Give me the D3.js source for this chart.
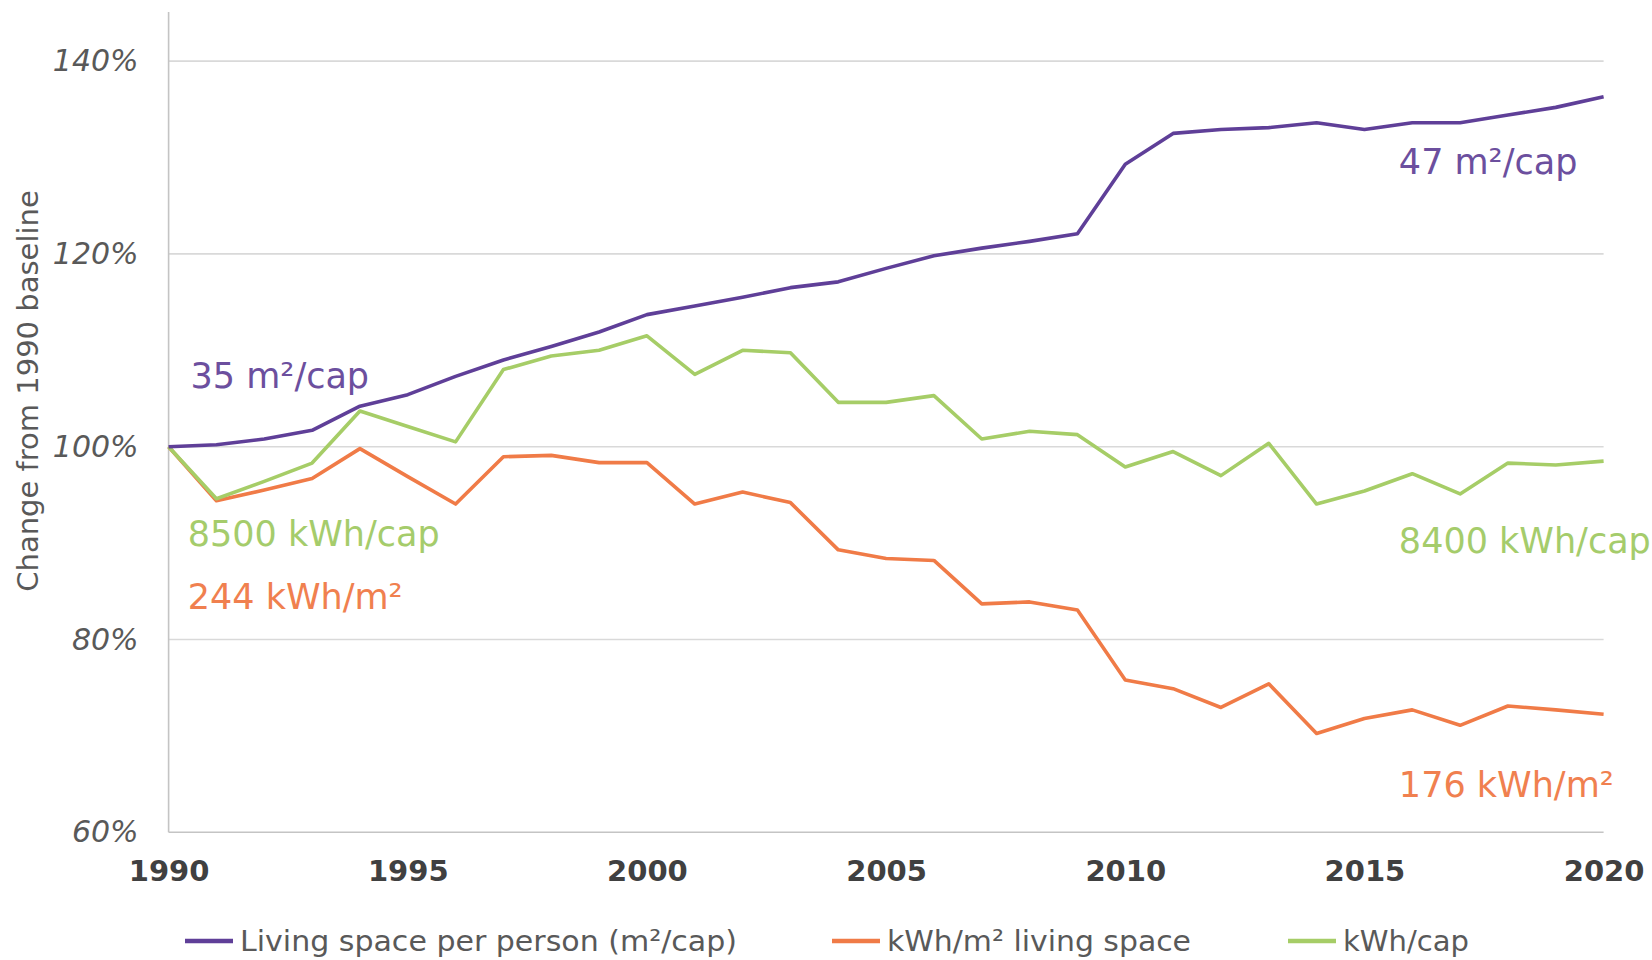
<!DOCTYPE html>
<html>
<head>
<meta charset="utf-8">
<script src="https://cdn.jsdelivr.net/npm/d3@7"></script>
<style>
  body { margin: 0; background: #fff; }
  svg { display: block; font-family: "DejaVu Sans", Verdana, sans-serif; }
</style>
</head>
<body>
<svg id="chart"></svg>
<script>
// data (index 100 = 1990)
const years = d3.range(1990, 2021);
const livingSpace = [100, 100.2, 100.8, 101.7, 104.2, 105.4, 107.3, 109.0, 110.4, 111.9,
  113.7, 114.6, 115.5, 116.5, 117.1, 118.5, 119.8, 120.6, 121.3, 122.1,
  129.3, 132.5, 132.9, 133.1, 133.6, 132.9, 133.6, 133.6, 134.4, 135.2, 136.3];
const kwhPerM2 = [100, 94.4, 95.5, 96.7, 99.8, 96.9, 94.05, 98.96, 99.1, 98.35,
  98.35, 94.05, 95.3, 94.2, 89.3, 88.4, 88.2, 83.7, 83.9, 83.05,
  75.8, 74.9, 72.95, 75.4, 70.25, 71.8, 72.7, 71.1, 73.1, 72.7, 72.25];
const kwhPerCap = [100, 94.6, 96.4, 98.3, 103.7, 102.1, 100.5, 108.0, 109.4, 110.0,
  111.5, 107.5, 110.0, 109.75, 104.6, 104.6, 105.3, 100.8, 101.6, 101.25,
  97.9, 99.5, 97.0, 100.35, 94.05, 95.4, 97.2, 95.1, 98.3, 98.1, 98.5];

const seriesNames = ["Living space per person (m²/cap)", "kWh/m² living space", "kWh/cap"];
const yTicks = [60, 80, 100, 120, 140];
const xTicks = [1990, 1995, 2000, 2005, 2010, 2015, 2020];

// start / end labels: [text, year, value]
const endLabels = [
  ["35 m²/cap", 1990.46, 106.1],
  ["47 m²/cap", 2015.72, 128.3],
  ["8500 kWh/cap", 1990.4, 89.7],
  ["8400 kWh/cap", 2015.72, 89.0],
  ["244 kWh/m²", 1990.4, 83.2],
  ["176 kWh/m²", 2015.72, 63.7]
];

const lineColors = ["#5f3f98", "#f07b47", "#a6cd67"];
const textColors = ["#6c4f9e", "#f0804f", "#a5cc6b"];
const labelSeries = [0, 0, 2, 2, 1, 1];

const W = 1652, H = 960;
const svg = d3.select("#chart").attr("width", W).attr("height", H);

const x = d3.scaleLinear().domain([1990, 2020]).range([168.6, 1603.6]);
const y = d3.scaleLinear().domain([60, 140]).range([832.3, 61.1]);

// grid
svg.append("g")
  .selectAll("line")
  .data(yTicks)
  .enter()
  .append("line")
  .attr("x1", x(1990))
  .attr("x2", x(2020))
  .attr("y1", d => y(d))
  .attr("y2", d => y(d))
  .attr("stroke", d => d === 60 ? "#c4c4c4" : "#d9d9d9")
  .attr("stroke-width", 1.6);

// left axis line
svg.append("line")
  .attr("x1", x(1990)).attr("x2", x(1990))
  .attr("y1", 12).attr("y2", y(60))
  .attr("stroke", "#c4c4c4")
  .attr("stroke-width", 1.6);

// y axis labels
const yAxis = svg.append("g")
  .attr("transform", "translate(" + (x(1990) - 30) + ",0)")
  .call(d3.axisLeft(y).tickValues(yTicks).tickSize(0).tickFormat(d => d + "%"));
yAxis.select(".domain").remove();
yAxis.selectAll("text")
  .attr("x", 0)
  .attr("font-size", 30)
  .attr("font-style", "italic")
  .attr("font-family", "DejaVu Sans")
  .attr("fill", "#595959");

// x axis labels
const xAxis = svg.append("g")
  .attr("transform", "translate(0," + y(60) + ")")
  .call(d3.axisBottom(x).tickValues(xTicks).tickSize(0).tickFormat(d3.format("d")));
xAxis.select(".domain").remove();
xAxis.selectAll("text")
  .attr("y", 28)
  .attr("font-size", 29)
  .attr("font-weight", "bold")
  .attr("font-family", "DejaVu Sans")
  .attr("fill", "#404040");

// y title
svg.append("text")
  .attr("transform", "translate(38," + 391 + ") rotate(-90)")
  .attr("text-anchor", "middle")
  .attr("font-size", 29)
  .attr("fill", "#595959")
  .text("Change from 1990 baseline");

// lines
const allSeries = [livingSpace, kwhPerM2, kwhPerCap];
const line = d3.line()
  .x((d, i) => x(years[i]))
  .y(d => y(d));

svg.append("g")
  .selectAll("path")
  .data([allSeries[1], allSeries[2], allSeries[0]])
  .enter()
  .append("path")
  .attr("d", line)
  .attr("fill", "none")
  .attr("stroke", (d, i) => lineColors[[1, 2, 0][i]])
  .attr("stroke-width", 3.6)
  .attr("stroke-linejoin", "round");

// labels at start / end
svg.append("g")
  .selectAll("text")
  .data(endLabels)
  .enter()
  .append("text")
  .attr("x", d => x(d[1]))
  .attr("y", d => y(d[2]))
  .attr("font-size", 35)
  .attr("fill", (d, i) => textColors[labelSeries[i]])
  .text(d => d[0]);

// legend
const legendX = [185, 832, 1288];
const legendW = [497, 304, 126];
const legend = svg.append("g").attr("transform", "translate(0,941)");
const items = legend.selectAll("g")
  .data(seriesNames)
  .enter()
  .append("g")
  .attr("transform", (d, i) => "translate(" + legendX[i] + ",0)");
items.append("line")
  .attr("x1", 0).attr("x2", 48)
  .attr("y1", 0).attr("y2", 0)
  .attr("stroke", (d, i) => lineColors[i])
  .attr("stroke-width", 4.5);
items.append("text")
  .attr("x", 55)
  .attr("dy", "0.36em")
  .attr("font-size", 29)
  .attr("fill", "#595959")
  .attr("textLength", (d, i) => legendW[i])
  .attr("lengthAdjust", "spacingAndGlyphs")
  .text(d => d);
</script>
</body>
</html>
